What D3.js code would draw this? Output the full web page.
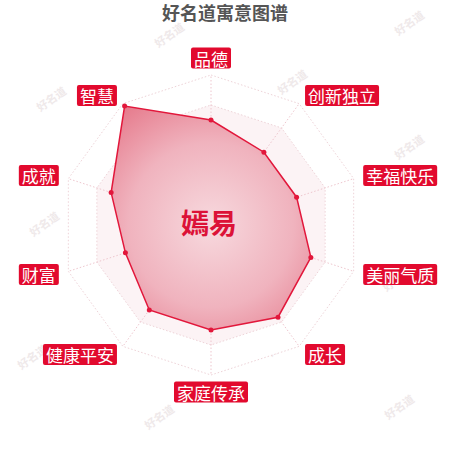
<!DOCTYPE html>
<html>
<head>
<meta charset="utf-8">
<script src="https://cdn.jsdelivr.net/npm/d3@7"></script>
<style>
  body { margin: 0; background: #fff; }
  svg { display: block; font-family: "Noto Sans CJK SC", "Noto Sans", sans-serif; }
</style>
</head>
<body>
<div id="chart"></div>
<script>
// chart data
var indicators = ["品德", "创新独立", "幸福快乐", "美丽气质", "成长", "家庭传承", "健康平安", "财富", "成就", "智慧"];
var scores = [70, 60, 60, 70, 76, 70, 70, 60, 70, 98];
var levels = [20, 40, 60, 80, 100];
var titleText = "好名道寓意图谱";
var nameText = "嫣易";
var watermarkText = "好名道";

var width = 450, height = 450;
var cx = 211, cy = 225, radius = 150;

var svg = d3.select("#chart").append("svg")
  .attr("width", width)
  .attr("height", height);

// watermarks in the background
var marks = [[170, 36], [410, 24], [52, 100], [293, 83], [410, 148], [45, 225], [398, 280],
  [283, 345], [33, 358], [160, 418], [400, 408], [300, 215], [150, 160]];
svg.append("g").selectAll("text")
  .data(marks)
  .enter().append("text")
  .attr("transform", function (d) { return "translate(" + d[0] + "," + d[1] + ") rotate(-35)"; })
  .attr("text-anchor", "middle")
  .attr("dominant-baseline", "middle")
  .style("font-size", "11px")
  .style("font-weight", "bold")
  .style("fill", "#efe9ea")
  .text(watermarkText);

// title
svg.append("text")
  .attr("x", 225)
  .attr("y", 20)
  .attr("text-anchor", "middle")
  .style("font-size", "18px")
  .style("font-weight", "bold")
  .style("fill", "#555")
  .text(titleText);

var g = svg.append("g")
  .attr("transform", "translate(" + cx + "," + cy + ")");

var rScale = d3.scaleLinear().domain([0, 100]).range([0, radius]);
var angle = d3.scaleLinear().domain([0, indicators.length]).range([0, 2 * Math.PI]);

function px(a, r) { return r * Math.sin(a); }
function py(a, r) { return -r * Math.cos(a); }

var ringLine = d3.lineRadial()
  .angle(function (d, i) { return angle(i); })
  .radius(function (d) { return rScale(d); })
  .curve(d3.curveLinearClosed);

// grid bands (outer to inner so inner ones sit on top)
levels.slice().reverse().forEach(function (lv, k) {
  g.append("path")
    .attr("d", ringLine(indicators.map(function () { return lv; })))
    .attr("fill", k === 0 ? "#ffffff" : "#fcf3f5")
    .attr("stroke", "#eed3d8")
    .attr("stroke-width", 1)
    .attr("stroke-dasharray", "1.5,2");
});

// spokes
g.selectAll(".spoke")
  .data(indicators)
  .enter().append("line")
  .attr("class", "spoke")
  .attr("x1", 0).attr("y1", 0)
  .attr("x2", function (d, i) { return px(angle(i), radius); })
  .attr("y2", function (d, i) { return py(angle(i), radius); })
  .attr("stroke", "#eec6ce")
  .attr("stroke-width", 1)
  .attr("stroke-dasharray", "1.5,2");

// gradient fill for the score area
var grad = svg.append("defs").append("radialGradient")
  .attr("id", "areaGrad")
  .attr("gradientUnits", "userSpaceOnUse")
  .attr("cx", 0).attr("cy", 0).attr("r", radius);
grad.append("stop").attr("offset", "0%").attr("stop-color", "#f7d9de");
grad.append("stop").attr("offset", "55%").attr("stop-color", "#f0b3be");
grad.append("stop").attr("offset", "100%").attr("stop-color", "#e57789");

g.append("path")
  .attr("d", ringLine(scores))
  .attr("fill", "url(#areaGrad)")
  .attr("stroke", "#e2173b")
  .attr("stroke-width", 1.5);

g.selectAll(".dot")
  .data(scores)
  .enter().append("circle")
  .attr("class", "dot")
  .attr("cx", function (d, i) { return px(angle(i), rScale(d)); })
  .attr("cy", function (d, i) { return py(angle(i), rScale(d)); })
  .attr("r", 2.5)
  .attr("fill", "#e2173b");

// centre name
g.append("text")
  .attr("x", -2)
  .attr("y", -3)
  .attr("text-anchor", "middle")
  .attr("dominant-baseline", "central")
  .style("font-size", "28px")
  .style("font-weight", "bold")
  .style("fill", "#dc1237")
  .text(nameText);

// indicator labels in red boxes
var fontSize = 17, padX = 3, boxH = 21;
var labels = g.selectAll(".lab")
  .data(indicators)
  .enter().append("g")
  .attr("class", "lab");

labels.each(function (d, i) {
  var a = angle(i);
  var s = Math.sin(a);
  var vertical = Math.abs(s) < 0.1;
  var dist = vertical ? radius + 17 : radius + 10;
  var x = px(a, dist), y = py(a, dist);
  var w = d.length * fontSize + 2 * padX;
  var left = vertical ? x - w / 2 : (s > 0 ? x : x - w);
  var grp = d3.select(this);
  grp.append("rect")
    .attr("x", left)
    .attr("y", y - boxH / 2)
    .attr("width", w)
    .attr("height", boxH)
    .attr("rx", 2)
    .attr("fill", "#e20a2e");
  grp.append("text")
    .attr("x", left + w / 2)
    .attr("y", y)
    .attr("text-anchor", "middle")
    .attr("dominant-baseline", "central")
    .style("font-size", fontSize + "px")
    .style("fill", "#fff")
    .text(d);
});
</script>
</body>
</html>
